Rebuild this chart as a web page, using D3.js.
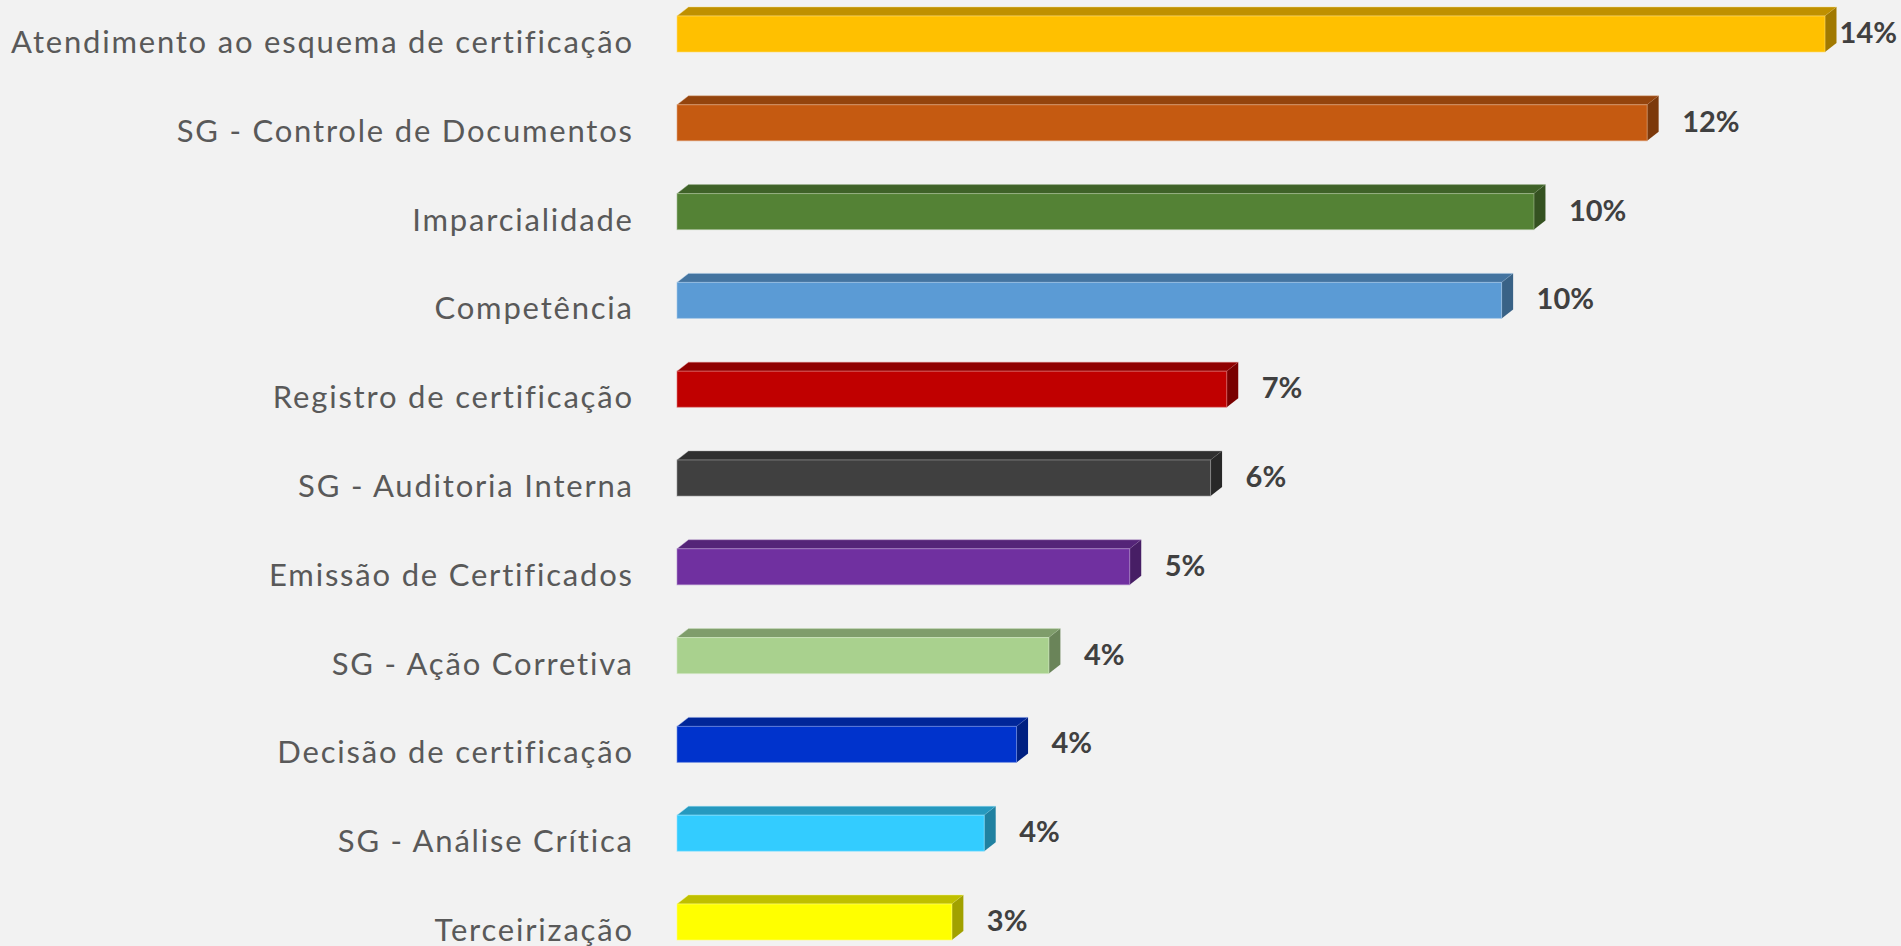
<!DOCTYPE html>
<html>
<head>
<meta charset="utf-8">
<script src="https://cdn.jsdelivr.net/npm/d3@7"></script>
<style>
  html, body { margin: 0; padding: 0; background: #F2F2F2; }
  svg { display: block; }
</style>
</head>
<body>
<svg id="chart" width="1901" height="946"></svg>
<script>
const categories = [
  "Atendimento ao esquema de certificação",
  "SG - Controle de Documentos",
  "Imparcialidade",
  "Competência",
  "Registro de certificação",
  "SG - Auditoria Interna",
  "Emissão de Certificados",
  "SG - Ação Corretiva",
  "Decisão de certificação",
  "SG - Análise Crítica",
  "Terceirização"
];
const values = [14.0, 11.8, 10.4, 10.0, 6.6, 6.4, 5.4, 4.4, 4.0, 3.6, 3.2];
const colors = ["#FFC000", "#C55A11", "#548235", "#5B9BD5", "#C00000", "#404040",
                "#7030A0", "#A9D18E", "#0033CC", "#33CCFF", "#FFFF00"];

const W = 1901, H = 946;
const svg = d3.select("#chart");
svg.append("rect").attr("width", W).attr("height", H).attr("fill", "#F2F2F2");

const x = d3.scaleLinear().domain([-0.2, 14]).range([677, 1825]);
const y = d3.scaleBand().domain(categories).range([16, 940])
  .paddingInner(1 - 36 / 88.8).paddingOuter(0).align(0);

const depthX = 11.5, depthY = 9;
const shade = (c, k) => { const r = d3.rgb(c); return d3.rgb(r.r * k, r.g * k, r.b * k).formatHex(); };
const fmt = d3.format(".0%");

const data = categories.map((c, i) => ({ cat: c, v: values[i], color: colors[i] }));

const bars = svg.append("g").selectAll("g").data(data).join("g");

// top face
bars.append("path")
  .attr("d", d => {
    const x0 = x(-0.2), x1 = x(d.v), y0 = y(d.cat);
    return `M${x0},${y0} L${x0 + depthX},${y0 - depthY} L${x1 + depthX},${y0 - depthY} L${x1},${y0} Z`;
  })
  .attr("fill", d => shade(d.color, 0.75))
  .attr("stroke", d => d3.interpolateRgb(d.color, "#ffffff")(0.5))
  .attr("stroke-width", 0.8)
  .attr("stroke-opacity", 0.5);

// side face
bars.append("path")
  .attr("d", d => {
    const x1 = x(d.v), y0 = y(d.cat), y1 = y0 + y.bandwidth();
    return `M${x1},${y0} L${x1 + depthX},${y0 - depthY} L${x1 + depthX},${y1 - depthY} L${x1},${y1} Z`;
  })
  .attr("fill", d => shade(d.color, 0.63));

// front face
bars.append("rect")
  .attr("x", x(-0.2))
  .attr("y", d => y(d.cat))
  .attr("width", d => x(d.v) - x(-0.2))
  .attr("height", y.bandwidth())
  .attr("fill", d => d.color)
  .attr("stroke", d => d3.interpolateRgb(d.color, "#ffffff")(0.45))
  .attr("stroke-width", 1)
  .attr("stroke-opacity", 0.6);

// category labels
const ls = 1.8;
svg.append("g").selectAll("text").data(data).join("text")
  .attr("x", 632 + ls)
  .attr("y", d => y(d.cat) + 37)
  .attr("text-anchor", "end")
  .attr("font-family", "Lato, 'Open Sans', sans-serif")
  .attr("font-size", 31)
  .attr("letter-spacing", ls)
  .attr("fill", "#595959")
  .text(d => d.cat);

// value labels
svg.append("g").selectAll("text").data(data).join("text")
  .attr("y", d => y(d.cat) + 27)
  .attr("font-family", "Lato, 'Open Sans', sans-serif")
  .attr("font-weight", "bold")
  .attr("font-size", 29)
  .attr("fill", "#404040")
  .text(d => fmt(d.v / 100))
  .attr("x", function(d) {
    const w = this.getComputedTextLength();
    return Math.min(x(d.v) + 35, W - 4 - w);
  });
</script>
</body>
</html>
